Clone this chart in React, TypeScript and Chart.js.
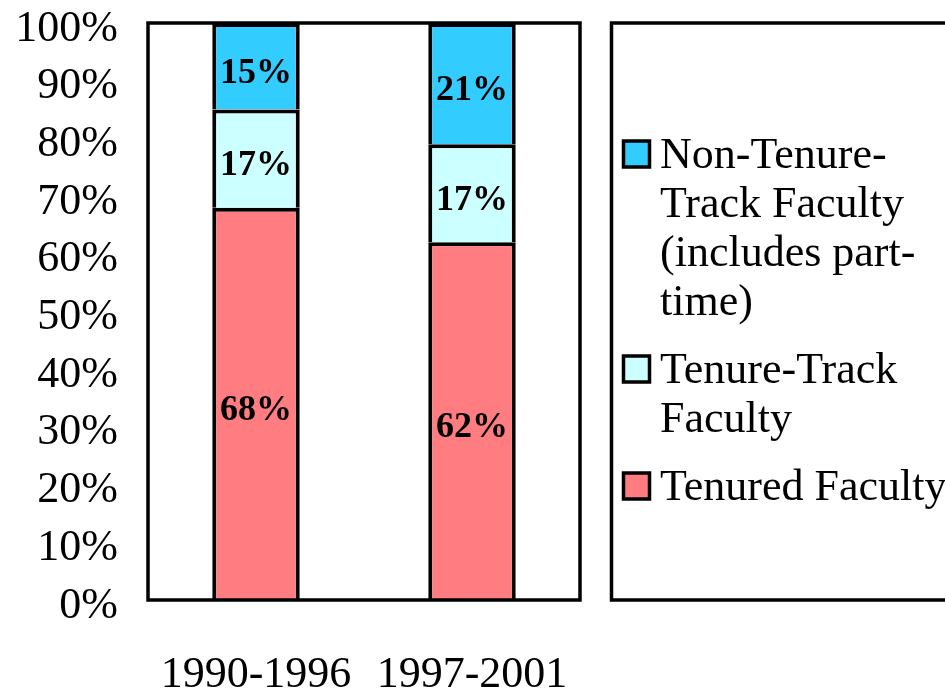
import React, { useEffect, useRef } from "react";
import { Chart, registerables } from "chart.js";

Chart.register(...registerables);

const categories = ["1990-1996", "1997-2001"];
const tenured = [68, 62];
const tenureTrack = [17, 17];
const nonTenureTrack = [15, 21];
const yTickLabels = ["0%", "10%", "20%", "30%", "40%", "50%", "60%", "70%", "80%", "90%", "100%"];
const legendNonTenureTrack = ["Non-Tenure-", "Track Faculty", "(includes part-", "time)"];
const legendTenureTrack = ["Tenure-Track", "Faculty"];
const legendTenured = ["Tenured Faculty"];

const FONT = '"Liberation Serif", "Times New Roman", serif';

const overlayPlugin = {
  id: "overlay",
  afterDatasetsDraw(chart: any) {
    const ctx = chart.ctx;
    const { left, top, right, bottom } = chart.chartArea;
    ctx.save();
    // data labels
    ctx.font = `bold 36px ${FONT}`;
    ctx.fillStyle = "#000";
    ctx.textAlign = "center";
    ctx.textBaseline = "middle";
    chart.data.datasets.forEach((ds: any, di: number) => {
      const meta = chart.getDatasetMeta(di);
      meta.data.forEach((bar: any, i: number) => {
        const v = ds.data[i];
        const yc = (bar.y + bar.base) / 2 + 7;
        ctx.fillText(v + "%", bar.x, yc);
      });
    });
    // plot frame
    ctx.lineWidth = 3.5;
    ctx.strokeStyle = "#000";
    ctx.strokeRect(left, top, right - left, bottom - top);
    // legend frame
    const lx = right + 31.5;
    ctx.strokeRect(lx, top, 400, bottom - top);
    // legend items
    const items = [...chart.data.datasets].reverse();
    let baseline = 168;
    const lineH = 49;
    const gap = 19;
    ctx.font = `44px ${FONT}`;
    ctx.textAlign = "left";
    ctx.textBaseline = "alphabetic";
    items.forEach((ds: any) => {
      const size = 26;
      const mx = lx + 12;
      const my = baseline - 27;
      ctx.fillStyle = ds.backgroundColor;
      ctx.fillRect(mx, my, size, size);
      ctx.lineWidth = 3.5;
      ctx.strokeStyle = "#000";
      ctx.strokeRect(mx, my, size, size);
      ctx.fillStyle = "#000";
      ds.legendLines.forEach((line: string, li: number) => {
        ctx.fillText(line, lx + 48.5, baseline + li * lineH);
      });
      baseline += ds.legendLines.length * lineH + gap;
    });
    ctx.restore();
  },
};

export default function App() {
  const ref = useRef<HTMLCanvasElement | null>(null);
  useEffect(() => {
    if (!ref.current) return;
    const chart = new Chart(ref.current, {
      type: "bar",
      data: {
        labels: categories,
        datasets: [
          {
            label: "Tenured Faculty",
            data: tenured,
            backgroundColor: "#FF7C80",
            borderColor: "#000",
            borderWidth: 4,
            legendLines: legendTenured,
          } as any,
          {
            label: "Tenure-Track Faculty",
            data: tenureTrack,
            backgroundColor: "#CCFFFF",
            borderColor: "#000",
            borderWidth: 4,
            legendLines: legendTenureTrack,
          } as any,
          {
            label: "Non-Tenure-Track Faculty (includes part-time)",
            data: nonTenureTrack,
            backgroundColor: "#33CCFF",
            borderColor: "#000",
            borderWidth: 4,
            legendLines: legendNonTenureTrack,
          } as any,
        ],
      },
      options: {
        responsive: false,
        animation: false,
        layout: { padding: { left: 0, top: 23, right: 365, bottom: 0 } },
        datasets: { bar: { categoryPercentage: 1, barPercentage: 0.405 } },
        plugins: { legend: { display: false }, tooltip: { enabled: false } },
        scales: {
          x: {
            stacked: true,
            grid: { display: false, drawTicks: false },
            border: { display: false },
            ticks: {
              color: "#000",
              padding: 53,
              font: { family: FONT, size: 44, lineHeight: 1 },
            },
            afterFit(scale: any) {
              scale.height = 95;
              scale.paddingLeft = 0;
              scale.paddingRight = 0;
            },
          },
          y: {
            stacked: true,
            min: 0,
            max: 100,
            grid: { display: false, drawTicks: false },
            border: { display: false },
            ticks: {
              stepSize: 10,
              autoSkip: false,
              color: "#000",
              padding: 30,
              labelOffset: 6,
              font: { family: FONT, size: 44, lineHeight: 1 },
              callback: (_v: any, idx: number) => yTickLabels[idx],
            },
            afterFit(scale: any) {
              scale.width = 148;
              scale.paddingTop = 0;
              scale.paddingBottom = 0;
            },
          },
        },
      },
      plugins: [overlayPlugin],
    });
    return () => chart.destroy();
  }, []);
  return (
    <canvas
      ref={ref}
      width={945}
      height={695}
      style={{ position: "absolute", left: 0, top: 0, display: "block" }}
    />
  );
}
